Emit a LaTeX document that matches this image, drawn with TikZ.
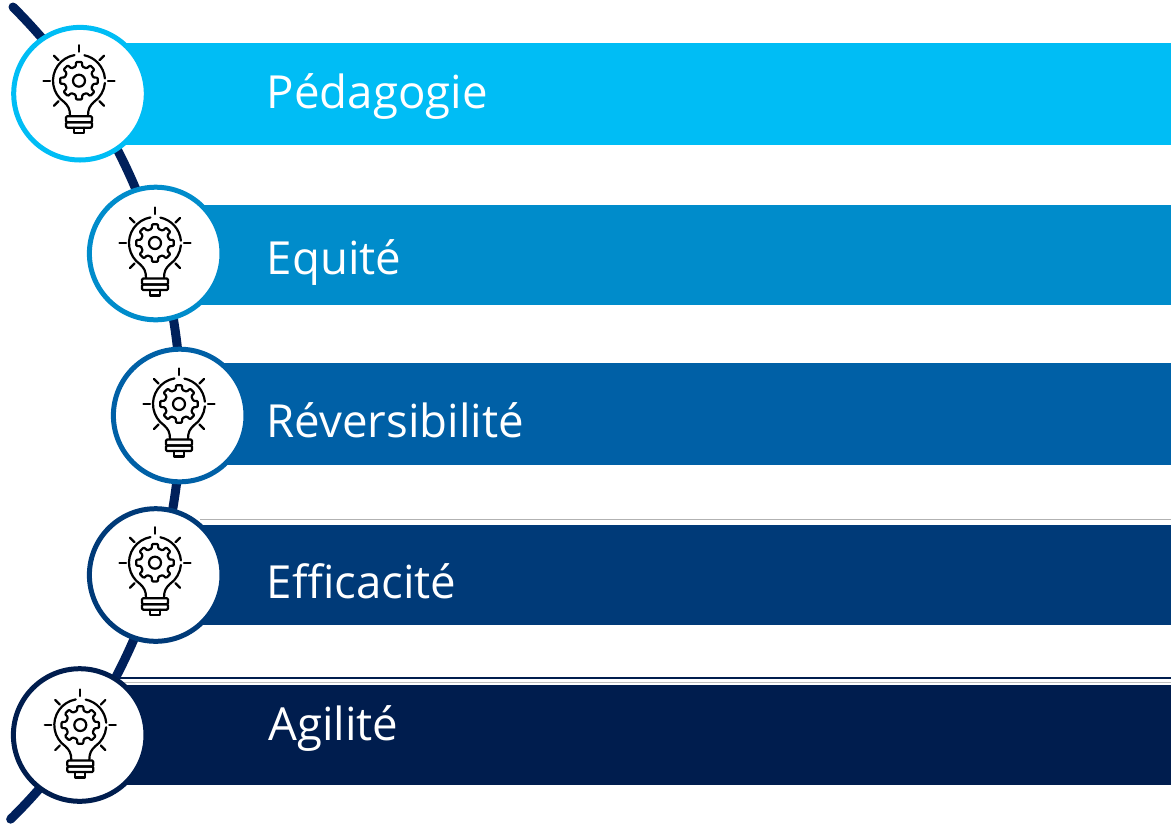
\documentclass[tikz,border=0pt]{standalone}
\usepackage{fontspec}
\setmainfont{Open Sans}
\definecolor{cA}{HTML}{00BDF5}
\definecolor{cB}{HTML}{008CCB}
\definecolor{cC}{HTML}{0060A6}
\definecolor{cD}{HTML}{003A78}
\definecolor{cE}{HTML}{001D4E}
\definecolor{spine}{HTML}{00205B}
\tikzset{
  x=1pt,y=-1pt,
  barbox/.style={rectangle,anchor=west,inner sep=0pt,outer sep=0pt,fill=#1},
  ringnode/.style={circle,draw=#1,fill=white,line width=5pt,minimum size=132.6pt,inner sep=0pt,outer sep=0pt},
  labeltext/.style={anchor=base west,inner sep=0pt,text=white,font=\fontsize{45.6}{52}\selectfont},
  rule/.style={line width=#1},
  bulbicon/.pic={
    \begin{scope}[line width=2.2pt,black,line cap=round,line join=round]
      \foreach \r in {-135,-90,-45,0,45,135,180}
        \draw (\r:29) -- (\r:35.5);
      \draw (-100:26) arc[start angle=-100,end angle=-235,radius=26]
        .. controls (-11,25) and (-9,28) .. (-9,35);
      \draw (9,35) .. controls (9,28) and (11,25) .. (14.9,21.3)
        arc[start angle=55,end angle=5,radius=26];
      \draw (-5:26) arc[start angle=-5,end angle=-78,radius=26];
      \draw[rounded corners=1.2pt] (-13,35.5) rectangle (13,41.5);
      \draw[rounded corners=1.2pt] (-13,41.5) rectangle (13,47);
      \draw (-5,47) -- (-5,52.5) -- (5,52.5) -- (5,47);
      \draw[rounded corners=1pt] (-22.5:14.5)
        \foreach \a in {0,45,...,315}{ -- (\a-13:14.5) -- (\a-9:19) -- (\a+9:19) -- (\a+13:14.5) } -- cycle;
      \draw (0,0) circle[radius=6];
    \end{scope}
  }
}
\begin{document}
\begin{tikzpicture}
\useasboundingbox (0,0) rectangle (1171,823);
\coordinate (top) at (13,7);
\draw[spine,line width=9pt,line cap=round] (top) arc[start angle=-45.07,end angle=45.4,radius=572] coordinate (bottom);

\draw[rule=0.8pt,color=gray!60] (200,519.5) -- (1171,519.5);
\draw[rule=1.6pt,color=cE] (120,678) -- (1171,678);
\draw[rule=0.8pt,color=gray!50] (120,682.6) -- (1171,682.6);

\node[barbox=cA,minimum width=1091pt,minimum height=102pt] (b1) at (80,94) {};
\node[barbox=cB,minimum width=1015.3pt,minimum height=100pt] (b2) at (155.7,255) {};
\node[barbox=cC,minimum width=991.3pt,minimum height=102pt] (b3) at (179.7,414) {};
\node[barbox=cD,minimum width=1015.3pt,minimum height=100pt] (b4) at (155.7,575) {};
\node[barbox=cE,minimum width=1091.3pt,minimum height=100pt] (b5) at (79.7,735) {};

\node[ringnode=cA] (c1) at (80,93.7) {};
\node[ringnode=cB] (c2) at (155.7,253.5) {};
\node[ringnode=cC] (c3) at (179.7,415.5) {};
\node[ringnode=cD] (c4) at (155.7,575) {};
\node[ringnode=cE] (c5) at (79.7,735) {};

\pic at ([shift={(-1,-13)}]c1) {bulbicon};
\pic at ([shift={(-0.7,-10.5)}]c2) {bulbicon};
\pic at ([shift={(-0.7,-11.5)}]c3) {bulbicon};
\pic at ([shift={(-0.7,-12.3)}]c4) {bulbicon};
\pic at ([shift={(0.6,-10)}]c5) {bulbicon};

\node[labeltext] (t1) at (266.5,108) {Pédagogie};
\node[labeltext] (t2) at (266.5,274) {Equité};
\node[labeltext] (t3) at (266.5,437) {Réversibilité};
\node[labeltext] (t4) at (266.5,598) {Efficacité};
\node[labeltext] (t5) at (268,740) {Agilité};
\end{tikzpicture}
\end{document}
